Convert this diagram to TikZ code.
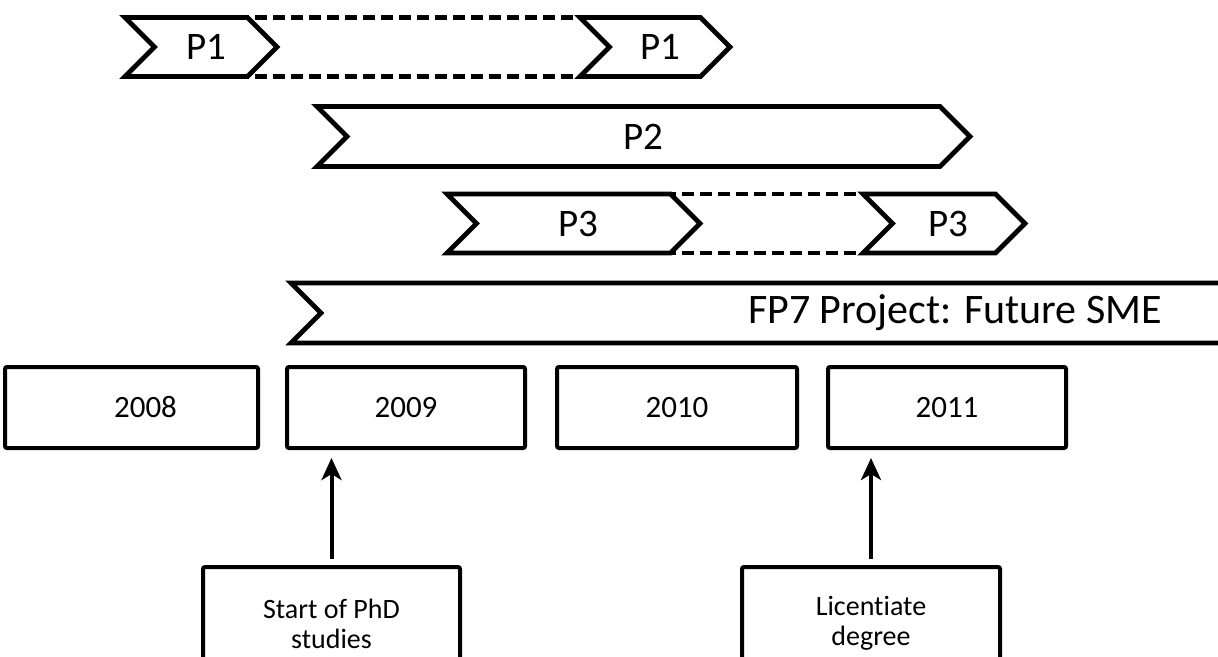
\documentclass[tikz,border=0pt]{standalone}
\usepackage{fontspec}
\setmainfont{Carlito}[Ligatures=NoCommon]
\usetikzlibrary{shapes.symbols,arrows.meta}
\tikzset{
  chev/.style={draw, line width=2.4pt, shape=signal, signal from=west, signal to=east,
    signal pointer angle=90, inner sep=0pt, outer sep=0pt, minimum height=29.5pt, font=\fontsize{19.5}{22}\selectfont},
  band/.style={draw, line width=2.4pt, shape=signal, signal from=west, signal to=nowhere,
    signal pointer angle=90, inner sep=0pt, outer sep=0pt, minimum height=30pt},
  yearbox/.style={draw, line width=2pt, rounded corners=1pt, inner sep=0pt, outer sep=0pt,
    minimum height=40.5pt, font=\fontsize{15.5}{18}\selectfont},
  notebox/.style={draw, line width=2pt, rounded corners=1pt, inner sep=0pt, outer sep=0pt,
    minimum height=56.5pt, align=center, font=\fontsize{14}{15}\selectfont},
  dashline/.style={line width=2.2pt, dash pattern=on 6pt off 3pt},
  uparrow/.style={line width=2pt, -{Stealth[length=11pt,width=10pt,inset=3pt]}, shorten <=4pt},
}
\begin{document}
\begin{tikzpicture}[x=0.5pt,y=-0.5pt]
\useasboundingbox (0,0) rectangle (1218,657);
% P1
\node[chev, minimum width=76pt] (p1a) at (201,47) {\hspace*{5pt}P1};
\node[chev, minimum width=75pt] (p1b) at (655,47) {\hspace*{5pt}P1};
\draw[dashline] (p1a.north) -- (p1b.north);
\draw[dashline] (p1a.south) -- (p1b.south);
% P2
\node[chev, minimum width=326.5pt, minimum height=30pt] (p2) at (643.5,136.5) {P2};
% P3
\node[chev, minimum width=126.5pt] (p3a) at (573.5,223.5) {\hspace*{5pt}P3};
\node[chev, minimum width=81pt] (p3b) at (944,223.5) {\hspace*{4pt}P3};
\draw[dashline] (p3a.north) -- (p3b.north);
\draw[dashline] (p3a.south) -- (p3b.south);
% FP7
\node[band, minimum width=476pt] (fp7) at (782,313) {};
\node[font=\fontsize{21}{24}\selectfont, inner sep=0pt] (fp7text) at (955,313) {FP7 Project: Future SME};
% years
\node[yearbox, minimum width=126.5pt] (y2008) at (131.5,407.5) {\hspace*{14pt}2008};
\node[yearbox, minimum width=119pt] (y2009) at (406,407.5) {2009};
\node[yearbox, minimum width=120pt] (y2010) at (677,407.5) {2010};
\node[yearbox, minimum width=119pt] (y2011) at (947,407.5) {2011};
% notes
\node[notebox, minimum width=128.5pt] (start) at (331.5,623.5) {Start of PhD\\studies};
\node[notebox, minimum width=129pt] (lic) at (871,623.5) {Licentiate\\degree};
\coordinate (a1) at (331.5,458);
\coordinate (a2) at (871,458);
\draw[uparrow] (start.north) -- (a1);
\draw[uparrow] (lic.north) -- (a2);
\end{tikzpicture}
\end{document}
